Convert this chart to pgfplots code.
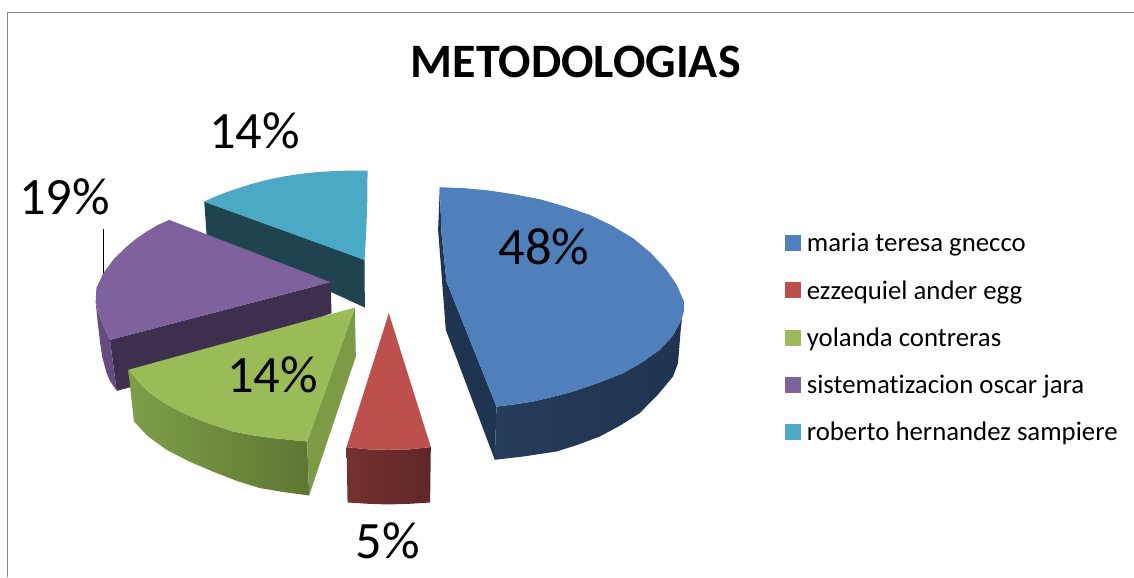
\documentclass[border=0pt]{standalone}
\usepackage{pgfplots}
\usepackage{fontspec}
\setmainfont{Carlito}[Ligatures=NoCommon]
\pgfplotsset{compat=1.18}
\definecolor{bluetop}{HTML}{4F80BC}
\definecolor{bluea}{HTML}{263C5A}
\definecolor{blueb}{HTML}{1F3450}
\definecolor{redtop}{HTML}{BD4F4C}
\definecolor{reda}{HTML}{763030}
\definecolor{redb}{HTML}{5F2727}
\definecolor{greentop}{HTML}{9BBB59}
\definecolor{greenside}{HTML}{7D9A47}
\definecolor{greena}{HTML}{7F9E48}
\definecolor{greenb}{HTML}{5F7633}
\definecolor{purpletop}{HTML}{7E619D}
\definecolor{purpleside}{HTML}{654C80}
\definecolor{purpledark}{HTML}{3F2F4E}
\definecolor{tealtop}{HTML}{4AAAC5}
\definecolor{tealdark}{HTML}{1F4450}
\definecolor{frame}{HTML}{868686}
\begin{document}
\begin{tikzpicture}
\begin{axis}[
  scale only axis, width=1134pt, height=577pt,
  xmin=0, xmax=1134, ymin=0, ymax=577, y dir=reverse,
  axis lines=none, clip=false,
  legend image code/.code={\fill[#1] (0pt,1.7pt) rectangle (15pt,16.7pt); \path[draw=none,fill=none] (0pt,0pt) -- (22pt,0pt);},
  legend style={at={(axis cs:785,233.5)}, anchor=north west, draw=none, fill=none,
    inner sep=0pt, outer sep=0pt, row sep=27.2pt,
    font=\fontsize{26.8}{32}\selectfont,
    nodes={inner sep=0pt, anchor=base west}},
  legend cell align=left,
]
\addlegendimage{bluetop}
\addlegendimage{redtop}
\addlegendimage{greentop}
\addlegendimage{purpletop}
\addlegendimage{tealtop}
\legend{maria teresa gnecco, ezzequiel ander egg, yolanda contreras, sistematizacion oscar jara, roberto hernandez sampiere}

% full picture extent
\addplot[draw=none, forget plot] coordinates {(0,0) (1134,577)};

% frame
\addplot[frame, line width=1pt, forget plot] coordinates {(8,577) (8,12.5) (1134,12.5)};

% teal slice
\addplot[draw=none, fill=tealdark, forget plot] coordinates {(204.3,201.7) (364.7,260) (365,307.7) (206.7,235)};
\addplot[draw=none, fill=tealtop, forget plot] coordinates {(204.3,201.7) (218,195.5) (233,190) (250,184.5) (267,180) (284,176.5) (300,174) (316,172.3) (333,171.2) (350,170.7) (367.7,170.7) (367.5,200) (366.5,230) (364.7,260)};

% purple slice
\addplot[draw=none, fill=purpledark, forget plot] coordinates {(110,340) (330.7,282.3) (331.7,313.3) (129.3,387.7) (116.7,391)};
\addplot[draw=none, fill=purpleside, forget plot] coordinates {(110,340) (116.7,391) (110,381) (106.7,373.3) (102.5,358) (100.7,346.7) (98,325) (95.7,301.7) (98,312) (103,325)};
\addplot[draw=none, fill=purpletop, forget plot] coordinates {(169.3,220) (330.7,282.3) (110,340) (103,325) (98,312) (95.7,301.7) (96.5,288) (103.3,273.3) (114,259) (126.7,246.7) (136,239) (146.7,231.7) (158,225)};

% green slice
\addplot[draw=none, left color=greena, right color=greenb, forget plot] coordinates {(128.3,370) (138,382) (150,393.3) (165,403.5) (183.3,413.3) (207,423) (233.3,431.7) (253,435.5) (273.3,438.3) (307.3,441.7) (309.3,495.7) (285,492.5) (260,488.3) (238,481.5) (216.7,473.3) (190,462) (166.7,450) (148,436.5) (134,421.7)};
\addplot[draw=none, fill=greenside, forget plot] coordinates {(355,307.7) (356,356.7) (309.3,495.7) (307.3,441.7)};
\addplot[draw=none, fill=greentop, forget plot] coordinates {(355,307.7) (128.3,370) (138,382) (150,393.3) (165,403.5) (183.3,413.3) (207,423) (233.3,431.7) (253,435.5) (273.3,438.3) (307.3,441.7)};

% red slice
\addplot[draw=none, left color=reda, right color=redb, forget plot] coordinates {(346.7,447.3) (368,449.5) (388.3,450) (410,449.5) (431,447.3) (430.3,502.7) (410,504) (388.3,504.7) (368,504) (347.7,502.7)};
\addplot[draw=none, fill=redtop, forget plot] coordinates {(389,313.3) (346.7,447.3) (368,449.5) (388.3,450) (410,449.5) (431,447.3)};

% blue slice
\addplot[draw=none, fill=blueb, forget plot] coordinates {(440,187.3) (438.3,230) (446,330) (495,460) (496.7,406.7) (446.7,281.7) (441.7,233.3)};
\addplot[draw=none, left color=bluea, right color=blueb, forget plot] coordinates {(496.7,406.7) (515,404.5) (533.3,401.7) (553,397) (573.3,391.7) (600,382.5) (623.3,373.3) (643,362) (660,350) (673,336) (681.7,320) (684,311) (684.3,301.7) (681,330) (678.3,363.3) (673.3,376.7) (658,395) (640,413.3) (620,426) (600,436.7) (578,445) (556.7,451.7) (525,456.5) (495,460)};
\addplot[draw=none, fill=bluetop, forget plot] coordinates {(440,187.3) (465,188.3) (490,190.7) (515,194.5) (540,199.3) (565,206.5) (590,215) (612,225.5) (633.3,238.3) (651,253) (666.7,270) (677,285) (684.3,301.7) (684,311) (681.7,320) (673,336) (660,350) (643,362) (623.3,373.3) (600,382.5) (573.3,391.7) (553,397) (533.3,401.7) (515,404.5) (496.7,406.7) (446.7,281.7) (441.7,233.3)};

% leader line
\addplot[black, line width=1.3pt, forget plot] coordinates {(103.3,229) (103.3,273)};

% data labels
\node[anchor=base, inner sep=0pt, font=\fontsize{52.5}{60}\selectfont] at (axis cs:544,265) {48\%};
\node[anchor=base, inner sep=0pt, font=\fontsize{52.5}{60}\selectfont] at (axis cs:388,558.3) {5\%};
\node[anchor=base, inner sep=0pt, font=\fontsize{52.5}{60}\selectfont] at (axis cs:272.5,392.7) {14\%};
\node[anchor=base, inner sep=0pt, font=\fontsize{52.5}{60}\selectfont] at (axis cs:64.5,215) {19\%};
\node[anchor=base, inner sep=0pt, font=\fontsize{52.5}{60}\selectfont] at (axis cs:254.5,149) {14\%};
% title
\node[anchor=base, inner sep=0pt, font=\fontsize{48}{58}\selectfont\bfseries] at (axis cs:576,78) {METODOLOGIAS};
\end{axis}
\end{tikzpicture}
\end{document}
